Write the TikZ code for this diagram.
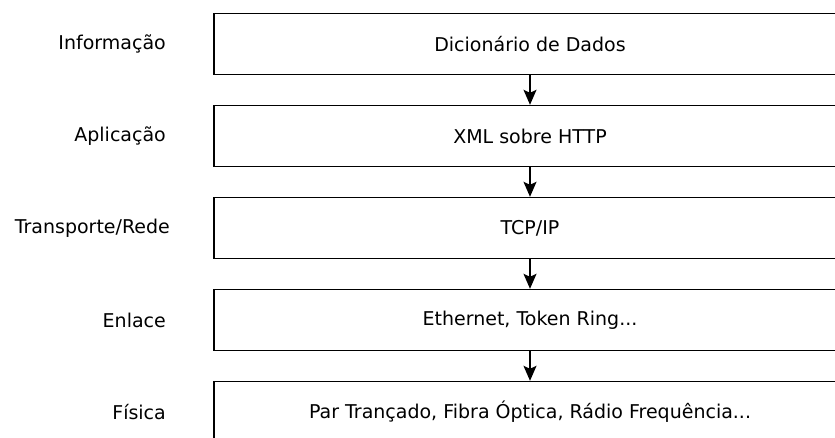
\documentclass[tikz,border=0pt]{standalone}
\usepackage{fontspec}
\setmainfont{DejaVu Sans}
\usetikzlibrary{arrows.meta}

\tikzset{
  layerbox/.style={draw, line width=1.4pt, minimum width=632pt, minimum height=61pt, inner sep=0pt},
  layername/.style={anchor=east, inner sep=0pt},
  layerarrow/.style={line width=1.4pt, -{Stealth[length=15pt,width=13pt,inset=3pt]}}
}

\begin{document}
\begin{tikzpicture}[x=1pt,y=1pt,yscale=-1,xscale=1,font=\fontsize{19}{23}\selectfont]
%set diagram to the size of the reference
\useasboundingbox (0,0) rectangle (835,437);
\clip (0,0) rectangle (835,437);

%Shape: Rectangle [Informacao]
\node [layerbox] (dados) at (530,44) {Dicionário de Dados};
%Shape: Rectangle [Aplicacao]
\node [layerbox] (xml) at (530,136) {XML sobre HTTP};
%Shape: Rectangle [Transporte]
\node [layerbox] (tcpip) at (530,228) {TCP/IP};
%Shape: Rectangle [Enlace]
\node [layerbox] (ether) at (530,320) {Ethernet, Token Ring...};
%Shape: Rectangle [Fisica]
\node [layerbox] (meio) at (530,412) {Par Trançado, Fibra Óptica, Rádio Frequência...};

%Straight Lines
\draw [layerarrow] (dados.south) -- (xml.north);
\draw [layerarrow] (xml.south) -- (tcpip.north);
\draw [layerarrow] (tcpip.south) -- (ether.north);
\draw [layerarrow] (ether.south) -- (meio.north);

% Text Node
\node [layername] (info) at (166,44) {Informação};
% Text Node
\node [layername] (apl) at (166,136) {Aplicação};
% Text Node
\node [layername] (transp) at (170,228) {Transporte/Rede};
% Text Node
\node [layername] (enl) at (166,320) {Enlace};
% Text Node
\node [layername] (fis) at (166,412) {Física};

\end{tikzpicture}
\end{document}
